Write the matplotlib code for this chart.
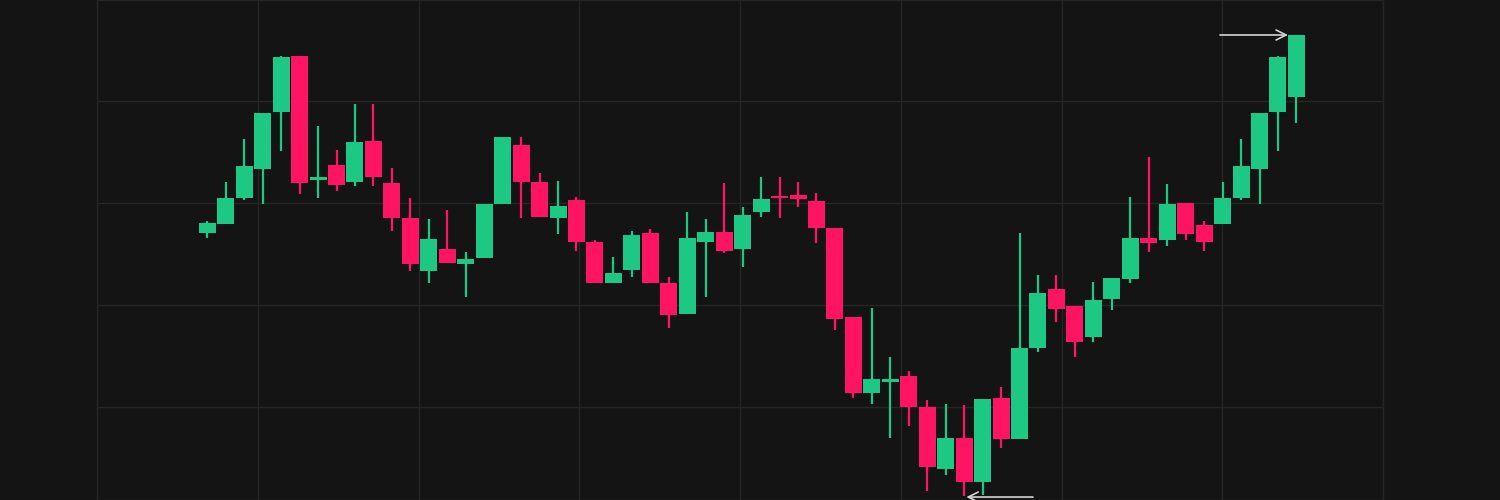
import numpy as np
import matplotlib
matplotlib.use("Agg")
import matplotlib.pyplot as plt

# OHLC values, one entry per candle
opens = [117.09, 117.94, 120.52, 123.33, 128.95, 134.44, 122.25, 123.73, 122.09, 126.08,
         121.93, 118.50, 113.33, 115.49, 114.05, 114.61, 119.90, 125.66, 122.03, 118.56,
         120.29, 116.21, 112.13, 113.43, 117.03, 112.13, 109.12, 116.21, 117.19, 115.46,
         119.15, 120.69, 120.75, 120.20, 117.58, 108.85, 101.40, 102.48, 103.04, 99.97,
         93.89, 96.99, 92.68, 100.85, 96.83, 105.81, 111.54, 109.90, 106.83, 110.56,
         112.52, 116.60, 116.37, 119.97, 117.84, 117.91, 120.46, 123.30, 128.89, 130.42]
highs = [118.26, 122.03, 126.25, 128.85, 134.41, 134.44, 127.55, 125.20, 129.68, 129.68,
         123.40, 120.46, 118.43, 119.31, 115.20, 119.90, 126.47, 126.50, 122.91, 122.13,
         120.62, 116.37, 114.74, 117.28, 117.42, 112.72, 119.15, 118.40, 121.99, 119.64,
         122.58, 122.58, 122.09, 120.95, 117.58, 108.85, 109.68, 104.93, 103.56, 100.69,
         100.29, 100.20, 100.81, 101.93, 117.03, 112.94, 112.94, 109.90, 112.28, 112.65,
         120.62, 124.54, 121.83, 119.97, 118.24, 122.03, 126.25, 128.85, 134.41, 136.47]
lows = [116.54, 117.94, 120.29, 119.90, 125.13, 120.85, 120.46, 121.18, 121.70, 121.70,
        117.25, 113.33, 112.13, 114.15, 110.81, 114.61, 119.90, 118.50, 118.60, 116.96,
        115.32, 112.13, 112.13, 112.72, 112.13, 107.72, 109.12, 110.81, 115.07, 113.75,
        118.60, 118.50, 119.64, 116.11, 107.55, 100.85, 100.29, 96.93, 98.14, 91.79,
        93.33, 91.27, 91.37, 95.95, 96.83, 105.42, 108.36, 104.87, 106.40, 109.54,
        112.13, 115.17, 115.78, 116.37, 115.32, 117.91, 120.29, 119.90, 125.13, 127.81]
closes = [118.07, 120.52, 123.66, 128.85, 134.28, 121.99, 122.58, 121.76, 125.98, 122.55,
          118.56, 114.05, 116.44, 114.15, 114.54, 119.90, 126.47, 122.03, 118.60, 119.71,
          116.21, 112.13, 113.17, 116.86, 112.13, 109.02, 116.54, 117.19, 115.32, 118.82,
          120.36, 120.46, 120.36, 117.58, 108.60, 101.40, 102.75, 102.75, 99.97, 94.09,
          96.93, 92.68, 100.81, 96.83, 105.81, 111.21, 109.58, 106.34, 110.49, 112.65,
          116.60, 116.05, 119.87, 116.93, 116.21, 120.52, 123.66, 128.85, 134.28, 136.47]

# arrow tails (x in candle index) pointing at the last high and the lowest low
top_arrow_tail = 54.86
bottom_arrow_tail = 44.73

bg = "#141414"
grid_col = "#262626"
up_col = "#1dc884"
down_col = "#ff1464"
arrow_col = "#d4d4d4"

o = np.array(opens)
h = np.array(highs)
l = np.array(lows)
c = np.array(closes)
x = np.arange(len(o))
cols = [up_col if cc >= oo else down_col for oo, cc in zip(o, c)]

fig = plt.figure(figsize=(15, 5), dpi=100, facecolor=bg)
ax = fig.add_axes([97 / 1500, 0, 1286 / 1500, 1])
ax.set_facecolor(bg)

# wicks then bodies
ax.vlines(x, l, h, colors=cols, linewidth=1.6, zorder=2)
ax.bar(x, c - o, bottom=o, width=0.92, color=cols, linewidth=0, zorder=3)

xlim = (-5.975, 63.69)
ax.set_xlim(xlim)
ax.set_ylim(90.88, 139.9)
ax.set_xticks(np.linspace(xlim[0], xlim[1], 9))
ax.set_yticks([100, 110, 120, 130])
ax.grid(True, color=grid_col, linewidth=1, zorder=0)
ax.tick_params(length=0, labelbottom=False, labelleft=False)
for s in ax.spines.values():
    s.set_color(grid_col)
    s.set_linewidth(1)

# arrows marking the extremes
last = len(o) - 1
ax.annotate("", xy=(last - 0.46, h[last]), xytext=(top_arrow_tail, h[last]),
            arrowprops=dict(arrowstyle="->", color=arrow_col, lw=1.2,
                            mutation_scale=18, shrinkA=0, shrinkB=0), zorder=4)
low_i = int(np.argmin(l))
ax.annotate("", xy=(low_i + 0.12, l[low_i] - 0.1), xytext=(bottom_arrow_tail, l[low_i] - 0.1),
            arrowprops=dict(arrowstyle="->", color=arrow_col, lw=1.2,
                            mutation_scale=18, shrinkA=0, shrinkB=0), zorder=4)

fig.savefig("out.png", dpi=100, facecolor=bg)
